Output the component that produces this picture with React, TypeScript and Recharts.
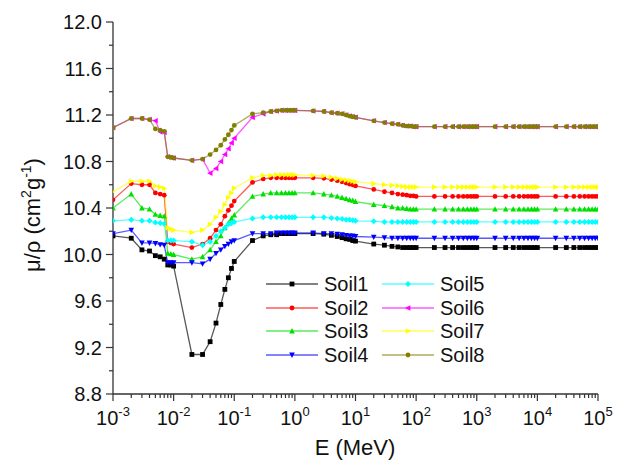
import React from "react"
import { LineChart, Line, XAxis, YAxis } from "recharts"

// photon energy grid (MeV)
const energies = [
  0.001, 0.002, 0.003, 0.004, 0.005, 0.006, 0.007, 0.008, 0.009,
  0.01, 0.02, 0.03, 0.04, 0.05, 0.06, 0.07, 0.08, 0.09,
  0.1, 0.2, 0.3, 0.4, 0.5, 0.6, 0.7, 0.8, 0.9,
  1, 2, 3, 4, 5, 6, 7, 8, 9,
  10, 20, 30, 40, 50, 60, 70, 80, 90,
  100, 200, 300, 400, 500, 600, 700, 800, 900,
  1000, 2000, 3000, 4000, 5000, 6000, 7000, 8000, 9000,
  10000, 20000, 30000, 40000, 50000, 60000, 70000, 80000, 90000,
  100000,
]

const soil1 = [
  10.16, 10.14, 10.04, 10.03, 9.99, 9.98, 9.96, 9.91, 9.91,
  9.9, 9.14, 9.14, 9.25, 9.41, 9.57, 9.7, 9.8, 9.88,
  9.94, 10.12, 10.16, 10.17, 10.17, 10.18, 10.18, 10.18, 10.18,
  10.18, 10.18, 10.175, 10.165, 10.155, 10.145, 10.135, 10.13, 10.12,
  10.115, 10.09, 10.08, 10.07, 10.065, 10.06, 10.06, 10.06, 10.06,
  10.06, 10.06, 10.06, 10.06, 10.06, 10.06, 10.06, 10.06, 10.06,
  10.06, 10.06, 10.06, 10.06, 10.06, 10.06, 10.06, 10.06, 10.06,
  10.06, 10.06, 10.06, 10.06, 10.06, 10.06, 10.06, 10.06, 10.06,
  10.06,
]

const soil2 = [
  10.47, 10.61, 10.6, 10.6, 10.53, 10.52, 10.51, 10.11, 10.1,
  10.09, 10.06, 10.09, 10.14, 10.21, 10.26, 10.33, 10.38, 10.42,
  10.46, 10.62, 10.65, 10.66, 10.66, 10.66, 10.66, 10.66, 10.66,
  10.66, 10.66, 10.655, 10.645, 10.635, 10.625, 10.615, 10.605, 10.6,
  10.59, 10.56, 10.54, 10.53, 10.52, 10.515, 10.51, 10.505, 10.505,
  10.5, 10.5, 10.5, 10.5, 10.5, 10.5, 10.5, 10.5, 10.5,
  10.5, 10.5, 10.5, 10.5, 10.5, 10.5, 10.5, 10.5, 10.5,
  10.5, 10.5, 10.5, 10.5, 10.5, 10.5, 10.5, 10.5, 10.5,
  10.5,
]

const soil3 = [
  10.4, 10.52, 10.4, 10.39, 10.345, 10.335, 10.33, 10.01, 10.005,
  10.0, 9.96, 9.98, 10.04, 10.11, 10.16, 10.23, 10.27, 10.31,
  10.34, 10.5, 10.52, 10.53, 10.53, 10.53, 10.53, 10.53, 10.53,
  10.53, 10.53, 10.52, 10.51, 10.5, 10.49, 10.48, 10.47, 10.465,
  10.455, 10.43, 10.42, 10.41, 10.4, 10.4, 10.395, 10.39, 10.39,
  10.39, 10.39, 10.39, 10.39, 10.39, 10.39, 10.39, 10.39, 10.39,
  10.39, 10.39, 10.39, 10.39, 10.39, 10.39, 10.39, 10.39, 10.39,
  10.39, 10.39, 10.39, 10.39, 10.39, 10.39, 10.39, 10.39, 10.39,
  10.39,
]

const soil4 = [
  10.18, 10.21, 10.1, 10.1, 10.095, 10.085, 10.08, 9.93, 9.93,
  9.93, 9.93, 9.92, 9.96, 10.01, 10.04, 10.07, 10.09, 10.11,
  10.12, 10.18, 10.18, 10.18, 10.185, 10.185, 10.185, 10.185, 10.185,
  10.185, 10.185, 10.18, 10.18, 10.175, 10.17, 10.165, 10.16, 10.16,
  10.155, 10.15, 10.145, 10.14, 10.14, 10.14, 10.14, 10.14, 10.14,
  10.14, 10.14, 10.14, 10.14, 10.14, 10.14, 10.14, 10.14, 10.14,
  10.14, 10.14, 10.14, 10.14, 10.14, 10.14, 10.14, 10.14, 10.14,
  10.14, 10.14, 10.14, 10.14, 10.14, 10.14, 10.14, 10.14, 10.14,
  10.14,
]

const soil5 = [
  10.29, 10.3, 10.29, 10.29, 10.275, 10.27, 10.265, 10.12, 10.12,
  10.12, 10.11, 10.08, 10.11, 10.16, 10.2, 10.23, 10.26, 10.27,
  10.28, 10.31, 10.32, 10.32, 10.32, 10.32, 10.32, 10.32, 10.32,
  10.32, 10.32, 10.32, 10.315, 10.31, 10.305, 10.3, 10.3, 10.295,
  10.29, 10.285, 10.28, 10.28, 10.28, 10.28, 10.28, 10.28, 10.28,
  10.28, 10.28, 10.28, 10.28, 10.28, 10.28, 10.28, 10.28, 10.28,
  10.28, 10.28, 10.28, 10.28, 10.28, 10.28, 10.28, 10.28, 10.28,
  10.28, 10.28, 10.28, 10.28, 10.28, 10.28, 10.28, 10.28, 10.28,
  10.28,
]

const soil6 = [
  11.09, 11.17, 11.17, 11.16, 11.15, 11.055, 11.05, 10.84, 10.835,
  10.83, 10.81, 10.82, 10.7, 10.74, 10.8, 10.86, 10.91, 10.96,
  11.0, 11.18, 11.21, 11.23, 11.235, 11.24, 11.24, 11.24, 11.24,
  11.24, 11.235, 11.23, 11.22, 11.215, 11.21, 11.2, 11.19, 11.185,
  11.18, 11.15, 11.135, 11.125, 11.12, 11.11, 11.105, 11.105, 11.1,
  11.1, 11.1, 11.1, 11.1, 11.1, 11.1, 11.1, 11.1, 11.1,
  11.1, 11.1, 11.1, 11.1, 11.1, 11.1, 11.1, 11.1, 11.1,
  11.1, 11.1, 11.1, 11.1, 11.1, 11.1, 11.1, 11.1, 11.1,
  11.1,
]

const soil7 = [
  10.54, 10.63, 10.63, 10.63, 10.59, 10.58, 10.57, 10.23, 10.22,
  10.21, 10.19, 10.21, 10.26, 10.32, 10.37, 10.43, 10.49, 10.53,
  10.57, 10.66, 10.68, 10.68, 10.685, 10.685, 10.685, 10.685, 10.685,
  10.685, 10.68, 10.675, 10.665, 10.655, 10.645, 10.64, 10.635, 10.63,
  10.625, 10.61, 10.6, 10.595, 10.59, 10.585, 10.58, 10.58, 10.58,
  10.58, 10.58, 10.58, 10.58, 10.58, 10.58, 10.58, 10.58, 10.58,
  10.58, 10.58, 10.58, 10.58, 10.58, 10.58, 10.58, 10.58, 10.58,
  10.58, 10.58, 10.58, 10.58, 10.58, 10.58, 10.58, 10.58, 10.58,
  10.58,
]

const soil8 = [
  11.09, 11.17, 11.17, 11.16, 11.08, 11.07, 11.06, 10.84, 10.835,
  10.83, 10.81, 10.82, 10.86, 10.9, 10.94, 10.99, 11.03, 11.07,
  11.11, 11.21, 11.22, 11.23, 11.235, 11.24, 11.24, 11.24, 11.24,
  11.24, 11.235, 11.23, 11.22, 11.215, 11.21, 11.2, 11.19, 11.185,
  11.18, 11.15, 11.135, 11.125, 11.12, 11.11, 11.105, 11.105, 11.1,
  11.1, 11.1, 11.1, 11.1, 11.1, 11.1, 11.1, 11.1, 11.1,
  11.1, 11.1, 11.1, 11.1, 11.1, 11.1, 11.1, 11.1, 11.1,
  11.1, 11.1, 11.1, 11.1, 11.1, 11.1, 11.1, 11.1, 11.1,
  11.1,
]

const yTicks = [8.8, 9.0, 9.2, 9.4, 9.6, 9.8, 10.0, 10.2, 10.4, 10.6, 10.8, 11.0, 11.2, 11.4, 11.6, 11.8, 12.0]

type Shape = "square" | "circle" | "up" | "down" | "diamond" | "left" | "right"

const series: { key: string; values: number[]; color: string; shape: Shape }[] = [
  { key: "Soil1", values: soil1, color: "#000000", shape: "square" },
  { key: "Soil2", values: soil2, color: "#ff0000", shape: "circle" },
  { key: "Soil3", values: soil3, color: "#00e000", shape: "up" },
  { key: "Soil4", values: soil4, color: "#0000ff", shape: "down" },
  { key: "Soil5", values: soil5, color: "#00ffff", shape: "diamond" },
  { key: "Soil6", values: soil6, color: "#ff00ff", shape: "left" },
  { key: "Soil7", values: soil7, color: "#ffff00", shape: "right" },
  { key: "Soil8", values: soil8, color: "#808000", shape: "circle" },
]

const data = energies.map((e, i) => {
  const row: Record<string, number> = { E: e }
  series.forEach((s) => (row[s.key] = s.values[i]))
  return row
})

// decade + minor ticks for the log axis
const xTicks: number[] = []
for (let d = -3; d <= 4; d++) {
  for (let m = 1; m <= 9; m++) xTicks.push(Number((m * Math.pow(10, d)).toPrecision(3)))
}
xTicks.push(100000)

const FONT = "Arial, 'Liberation Sans', sans-serif"
const AXIS = "#333"

const marker = (shape: Shape, cx: number, cy: number, color: string, key?: string) => {
  const r = 2.4
  switch (shape) {
    case "square":
      return <rect key={key} x={cx - r} y={cy - r} width={r * 2} height={r * 2} fill={color} />
    case "circle":
      return <circle key={key} cx={cx} cy={cy} r={r} fill={color} />
    case "up":
      return <polygon key={key} points={`${cx},${cy - r - 0.6} ${cx - r - 0.4},${cy + r} ${cx + r + 0.4},${cy + r}`} fill={color} />
    case "down":
      return <polygon key={key} points={`${cx},${cy + r + 0.6} ${cx - r - 0.4},${cy - r} ${cx + r + 0.4},${cy - r}`} fill={color} />
    case "diamond":
      return <polygon key={key} points={`${cx},${cy - r - 0.6} ${cx + r + 0.6},${cy} ${cx},${cy + r + 0.6} ${cx - r - 0.6},${cy}`} fill={color} />
    case "left":
      return <polygon key={key} points={`${cx - r - 0.6},${cy} ${cx + r},${cy - r - 0.4} ${cx + r},${cy + r + 0.4}`} fill={color} />
    default:
      return <polygon key={key} points={`${cx + r + 0.6},${cy} ${cx - r},${cy - r - 0.4} ${cx - r},${cy + r + 0.4}`} fill={color} />
  }
}

const XTick = (props: any) => {
  const { x, y, payload } = props
  const lg = Math.log10(payload.value)
  const exp = Math.round(lg)
  const major = Math.abs(lg - exp) < 1e-6
  return (
    <g>
      <line x1={x} x2={x} y1={y} y2={y + (major ? 7 : 4)} stroke={AXIS} strokeWidth={1.2} />
      {major && (
        <text x={x} y={y + 31} textAnchor="middle" fontSize={20} fontFamily={FONT} fill="#111">
          10
          <tspan dy={-9} fontSize={13}>
            {exp}
          </tspan>
        </text>
      )}
    </g>
  )
}

const YTick = (props: any) => {
  const { x, y, payload } = props
  const major = Math.round((payload.value - 8.8) / 0.2) % 2 === 0
  return (
    <g>
      <line x1={x - (major ? 7 : 4)} x2={x} y1={y} y2={y} stroke={AXIS} strokeWidth={1.2} />
      {major && (
        <text x={x - 11} y={y + 7} textAnchor="end" fontSize={20} fontFamily={FONT} fill="#111">
          {payload.value.toFixed(1)}
        </text>
      )}
    </g>
  )
}

const LegendItem = ({ s, left, top }: { s: (typeof series)[number]; left: number; top: number }) => (
  <div style={{ position: "absolute", left, top, display: "flex", alignItems: "center", height: 22 }}>
    <svg width={52} height={22}>
      <line x1={0} x2={52} y1={11} y2={11} stroke={s.color} strokeOpacity={0.65} strokeWidth={1.6} />
      {marker(s.shape, 26, 11, s.color)}
    </svg>
    <span style={{ marginLeft: 6, fontFamily: FONT, fontSize: 20, color: "#111", lineHeight: "22px" }}>{s.key}</span>
  </div>
)

export default function App() {
  return (
    <div style={{ position: "relative", width: 624, height: 459 }}>
      <LineChart width={624} height={459} data={data} margin={{ top: 14, right: 34, bottom: 33, left: 45 }}>
        <XAxis
          dataKey="E"
          type="number"
          scale="log"
          domain={[0.001, 100000]}
          ticks={xTicks}
          interval={0}
          tick={<XTick />}
          tickLine={false}
          tickSize={0}
          tickMargin={0}
          height={40}
          stroke={AXIS}
          strokeWidth={1.3}
          allowDataOverflow
        />
        <YAxis
          type="number"
          domain={[8.8, 12.0]}
          ticks={yTicks}
          interval={0}
          tick={<YTick />}
          tickLine={false}
          tickSize={0}
          tickMargin={0}
          width={60}
          stroke={AXIS}
          strokeWidth={1.3}
        />
        {series.map((s) => (
          <Line
            key={s.key}
            dataKey={s.key}
            type="linear"
            stroke={s.color}
            strokeOpacity={0.65}
            strokeWidth={1.3}
            isAnimationActive={false}
            dot={(p: any) =>
              p.cx == null || p.cy == null
                ? <g key={`${s.key}-${p.index}`} />
                : marker(s.shape, p.cx, p.cy, s.color, `${s.key}-${p.index}`)
            }
            activeDot={false}
          />
        ))}
      </LineChart>

      <div
        style={{
          position: "absolute",
          left: 24,
          top: 207,
          transform: "translate(-50%, -50%) rotate(-90deg)",
          fontFamily: FONT,
          fontSize: 22,
          color: "#111",
          whiteSpace: "nowrap",
        }}
      >
        μ/ρ (cm<sup style={{ fontSize: 14 }}>2</sup>g<sup style={{ fontSize: 14 }}>-1</sup>)
      </div>
      <div
        style={{
          position: "absolute",
          left: 347,
          top: 440,
          transform: "translate(-50%, -50%)",
          fontFamily: FONT,
          fontSize: 22,
          color: "#111",
          whiteSpace: "nowrap",
        }}
      >
        E (MeV)
      </div>

      {series.map((s, i) => (
        <LegendItem key={s.key} s={s} left={i < 4 ? 258 : 374} top={265 + (i % 4) * 23.5} />
      ))}
    </div>
  )
}
